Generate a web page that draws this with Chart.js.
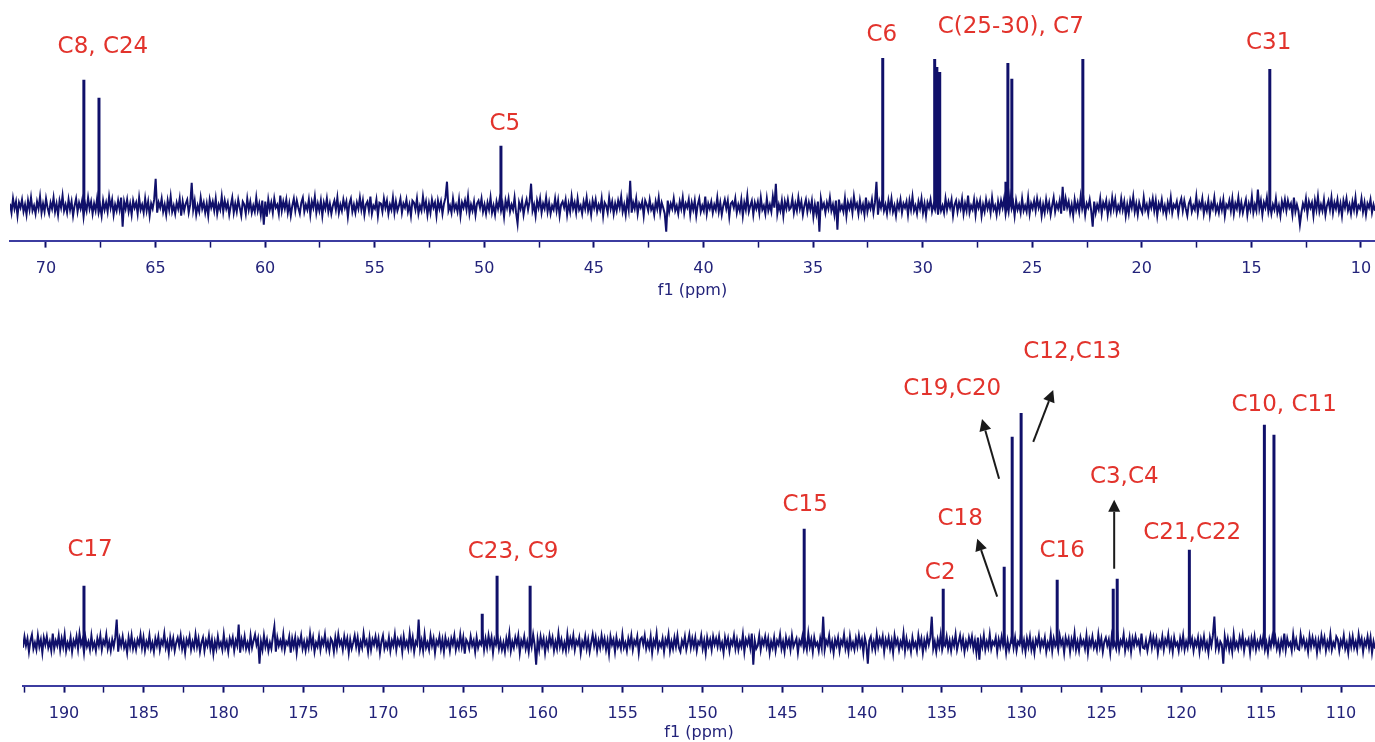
<!DOCTYPE html>
<html>
<head>
<meta charset="utf-8">
<script src="https://cdn.jsdelivr.net/npm/chart.js@4.4.1/dist/chart.umd.min.js"></script>
<style>
  body { margin: 0; background: #fff; }
  canvas { position: absolute; left: 0; }
  #topChart { top: 0; }
  #bottomChart { top: 300px; }
</style>
</head>
<body>
<canvas id="topChart" width="1375" height="300"></canvas>
<canvas id="bottomChart" width="1375" height="442"></canvas>
<script>
// ---- top spectrum (aliphatic region) ----
const topRange = [71.64, 9.36];           // ppm, left -> right
const topPeakPpm = [68.27, 67.58, 49.24, 31.82, 29.45, 29.35, 29.22, 26.2, 26.11, 25.93, 22.69, 14.16];
const topPeakHeight = [127, 109, 61, 149, 148, 140, 135, 25, 144, 128, 148, 138];
// baseline noise, left to right
const topNoise = [
  3,-6,8,-2,5,-9,4,-1,7,-5,2,-8,6, -3,9,-4,1,-7,5,-2,10,-6,3,-5,8,-1,
  -7,4,-2,9,-5,3,-8,6,-1,11,-4,2,-6, 7,-3,5,-9,1,8,-5,4,-2,6,-10,3,-4,
  9,-2,5,-7,3,-4,8,-6,1,-9,6,-3,4, -5,10,-1,7,-8,2,-4,6,-3,9,-20,5,-2,
  7,-5,3,-8,6,-1,4,-7,9,-3,2,-6,8, -4,5,-9,3,-2,7,28,-6,4,-1,8,-5,2,
  -8,6,-3,10,-5,1,-7,4,-2,8,-9,5,-4, 3,7,-6,2,24,-3,6,-8,1,-5,9,-2,4,
  -6,3,-9,7,-1,5,-4,8,-7,2,-3,10,-5, 6,-2,4,-8,1,9,-6,3,-5,7,-1,-9,5,
  2,-7,8,-3,5,-6,1,-5,9,-4,3,-8,6, -18,5,-10,7,-3,4,-6,8,-1,2,-7,11,-4,
  5,-2,7,-6,3,-9,1,8,-4,6,-1,-7,4, 9,-5,2,-3,7,-8,5,-1,10,-6,3,-4,6,
  -9,4,-2,8,-5,3,-7,1,6,-3,9,-6,2, -4,7,-1,5,-10,3,8,-5,2,-6,4,-2,9,
  -3,6,-8,2,5,-4,10,-7,1,-2,7,-9,4, 3,-5,8,-1,6,-7,2,-3,9,-6,5,-4,1,
  8,-6,3,-1,7,-5,2,-9,6,4,-3,8,-7, 1,-4,10,-2,5,-8,3,-6,7,-1,4,-9,6,
  -2,5,-7,3,9,25,-4,1,-6,8,-3,2,-5, 7,-9,4,-1,6,-3,10,-7,2,-4,5,-8,3,
  6,-1,8,-5,2,-7,4,-3,9,-6,1,-8,5, -2,7,-4,3,-10,6,-1,8,-5,2,-3,9,-6,
  -17,4,-2,6,-8,1,7,-3,5,23,-4,2,-9, 6,-1,8,-6,3,-2,9,-5,4,-7,1,-3,8,
  -4,6,-9,2,5,-1,7,-8,3,-5,10,-2,4, -6,8,-3,1,-7,5,-2,9,-4,3,-8,6,-1,
  7,-5,2,-3,8,-9,4,1,-6,9,-2,5,-7, 3,-4,6,-1,10,-5,2,-8,7,-3,26,-6,4,
  -2,8,-7,3,-1,5,-9,6,2,-4,7,-3,1, -8,5,-2,9,-6,4,-1,-7,-25,6,-5,3,-2,
  8,-4,1,-7,5,-2,9,-6,3,-1,7,-8,4, -3,6,-9,2,8,-5,1,-4,10,-7,3,-2,5,
  -6,2,-3,9,-5,4,-8,1,7,-2,6,-10,3, 5,-1,8,-6,2,-4,7,-9,4,-3,11,-5,1,
  6,-8,4,-2,5,-6,9,-3,1,-7,8,-4,2, -5,10,-1,23,-7,2,-4,6,-9,5,-2,7,-3,
  -1,8,-6,3,-4,9,-2,5,-8,1,7,-5,4, -3,6,-10,2,-7,5,-25,8,-1,3,-6,4,-2,
  9,-4,2,-8,6,-23,7,-3,1,-5,8,-9,4, -2,5,-6,10,-1,3,-7,6,-4,2,-8,9,-5,
  3,-2,7,-6,4,25,-8,5,-1,9,-4,2,-7, 6,-3,8,-5,1,-9,4,-2,7,-6,3,-1,5,
  -8,6,-3,10,-4,1,-7,5,-2,8,-6,3,-9, 4,-1,7,-5,2,-3,9,-8,6,-4,1,-6,8,
  -3,5,-1,7,-9,2,6,-5,4,-2,8,-7,3, -4,11,-6,1,-3,7,-8,5,-1,6,-9,2,-5,
  7,-2,4,-6,9,-3,1,-8,5,-4,6,-1,8, -7,3,-5,10,-2,4,-9,6,-3,2,-6,8,-4,
  1,-5,9,-7,3,-2,6,-4,8,-1,5,-9,2, -6,7,-3,4,-8,1,9,-5,3,-2,6,-7,20,
  -4,8,-1,5,-6,2,-9,7,-3,4,-5,10,-2, 6,-8,3,-1,7,-4,-20,5,-6,2,-3,8,-7,
  4,-1,6,-8,3,-5,9,-2,7,-6,1,-4,8, -3,5,-9,2,-7,6,-1,10,-5,3,-8,4,-2,
  -6,9,-3,2,-7,5,-1,8,-4,6,-9,3,-2, 7,-5,1,-8,4,-3,9,-6,2,-1,5,-7,3,
  8,-4,6,-2,-9,3,7,-5,1,-3,10,-6,4, -1,8,-7,2,-4,6,-8,3,-2,9,-5,1,-6,
  5,-3,7,-9,2,-1,6,-4,8,-7,3,-2,9, -5,4,-6,1,7,-8,3,-3,10,-6,2,-4,17,
  -2,6,-8,4,-1,9,-5,3,-7,2,-3,8,-6, 1,-9,5,-2,7,-4,6,-1,3,-8,9,-5,2,
  -4,-18,-6,3,-2,8,-7,5,-1,4,-9,6,-3, 10,-5,2,-4,7,-8,1,6,-3,9,-6,4,-2,
  7,-5,3,-9,6,-1,8,-4,2,-7,5,-3,9, -6,1,-2,8,-5,4,-8,3,-1,7,-6,2,-4
];
const topTicks = { step: 2.5, labelEvery: 5 };

// ---- bottom spectrum (aromatic / carbonyl region) ----
const bottomRange = [192.57, 107.87];
const bottomPeakPpm = [188.75, 163.8, 162.87, 160.8, 143.63, 134.92, 131.1, 130.6, 130.04, 127.78, 124.27, 124.02, 119.5, 114.8, 114.2];
const bottomPeakHeight = [58, 30, 68, 58, 115, 55, 77, 207, 231, 64, 55, 65, 94, 219, 209];
const bottomNoise = [
  -4,7,-2,5,-8,3,9,-5,1,-6,8,-3,4, -9,6,-1,7,-4,2,-7,10,-5,3,-2,8,-6,
  5,-3,9,-7,1,-4,6,-8,3,-2,7,-5,10, -1,4,-9,6,-3,2,-6,8,-4,1,-7,5,-2,
  8,-6,3,-1,9,-5,2,-7,4,-3,6,24,-8, 5,-2,7,-4,1,-9,6,-3,8,-5,2,-6,4,
  -1,9,-4,6,-7,2,-3,8,-5,1,-8,5,-2, 7,-6,3,-1,10,-4,2,-9,6,-3,5,-7,1,
  6,-2,8,-5,3,-9,4,-1,7,-6,2,-4,9, -3,5,-8,1,6,-7,3,-2,8,-5,4,-10,2,
  -5,7,-3,1,-6,9,-4,2,-8,5,-1,6,-7, 3,-2,19,-9,4,-3,7,-5,1,-6,8,-4,3,
  9,-1,5,-20,2,-6,8,-3,4,-7,1,-5,7, 17,-8,6,-2,3,-4,9,-6,2,-1,7,-9,5,
  -3,6,-9,4,-1,8,-5,2,-7,3,-4,10,-2, 6,-8,1,-3,7,-6,4,-1,9,-5,2,-7,5,
  2,-8,6,-4,9,-1,3,-6,7,-2,5,-9,4, -5,1,8,-3,6,-7,2,-4,10,-1,3,-8,6,
  -6,4,-1,7,-3,5,-9,2,8,-5,1,-4,6, -7,3,-2,9,-6,4,-1,5,-8,7,-3,2,-5,
  10,-3,6,-8,2,-1,24,-5,3,-7,9,-4,1, -6,8,-2,5,-9,3,-1,7,-5,4,-8,6,-2,
  3,-7,5,-1,8,-6,2,-4,9,-3,6,-10,4, 1,-5,7,-2,3,-8,6,-4,2,-1,9,-6,5,
  -4,8,-2,6,-9,4,-1,7,-5,3,-6,1,-8, 5,-3,10,-7,2,-4,6,-1,8,-9,3,-2,7,
  -5,2,-8,6,-3,9,-1,-21,4,-6,7,-2,5, -9,3,-4,8,-1,6,-7,2,-5,10,-3,4,-6,
  1,-7,9,-4,5,-2,8,-6,3,-1,6,-9,2, -3,7,-5,4,-8,1,9,-2,6,-7,3,-4,8,
  -2,5,-6,3,-10,7,-1,4,-8,6,-3,2,-5, 9,-4,1,-7,5,-2,8,-6,3,-1,7,-9,4,
  6,-1,8,-5,2,-4,7,-9,3,-2,10,-6,1, -3,5,-8,4,-1,9,-7,2,-5,6,-3,8,-4,
  -8,3,-2,7,-6,1,9,-4,5,-3,6,-7,2, -1,8,-5,3,-9,6,-2,4,-6,7,-1,5,-3,
  7,-4,1,-9,6,-2,5,-7,3,-1,8,-5,4, -6,2,-3,9,-8,4,-1,6,-4,10,-21,3,-5,
  -2,8,-6,4,-1,7,-3,5,-9,2,-4,6,-7, 3,-1,9,-5,2,-8,6,-2,4,-6,8,-3,1,
  5,-9,3,-1,7,-5,2,-6,10,-3,4,-8,6, -2,1,-7,5,-4,27,-6,3,-1,8,-5,2,-9,
  4,-2,6,-7,3,-1,9,-5,2,-8,7,-4,1, -6,5,-3,8,-2,4,-9,6,-1,-20,3,7,-5,
  2,-6,9,-3,5,-1,7,-8,4,-2,6,-5,3, -9,8,-1,4,-6,2,-3,10,-7,5,-4,1,-8,
  6,-3,1,-7,8,-2,5,-9,3,-4,7,-1,6, 27,-5,2,-8,4,-3,9,-6,1,-2,7,-5,3,
  -7,4,-2,9,-6,1,8,-3,5,-8,2,-4,6, -1,7,-5,3,-9,6,-16,4,-3,8,-6,2,-4,
  9,-5,2,-1,6,-8,4,-3,7,-2,5,-9,3, -6,1,8,-4,6,-7,2,-1,10,-5,3,-8,5,
  -3,7,-6,2,-9,4,-1,8,-5,3,-2,6,-8, 1,-4,9,-7,5,-2,3,-6,8,-1,4,-9,6,
  -1,5,-8,4,-3,10,-6,2,-7,6,-1,3,-5, 8,-9,4,-2,7,-4,1,-6,9,-3,5,-8,2,
  6,-2,4,-9,7,-3,1,-5,8,-6,3,-1,9, -7,2,-4,6,-8,5,-2,7,-1,3,-6,10,-4,
  -5,3,-7,1,8,-4,6,-2,5,-9,2,-3,7, -6,4,-1,9,-5,3,-8,6,-2,1,-7,5,-3,
  8,-6,2,-4,9,-1,5,-7,3,-2,6,-8,4, -3,7,-5,1,-9,6,-2,8,27,-4,3,-6,2,
  -1,-20,7,-3,5,-6,2,-8,9,-4,1,-5,6, -2,8,-7,3,-1,4,-9,5,-3,7,-6,2,-4,
  5,-2,8,-6,1,-9,4,-3,7,-1,6,-5,2, -8,3,-4,10,-6,5,-2,1,-7,9,-3,4,-5,
  -6,9,-1,5,-4,2,-8,7,-3,6,-2,4,-9, 3,-5,8,-1,6,-7,2,-4,9,-6,1,-3,7,
  4,-7,3,-2,8,-5,1,-9,6,-3,7,-4,2, -6,9,-1,5,-8,3,-2,7,-4,6,-9,2,-5
];

// peak labels: text, anchor ppm, anchor intensity
const topLabels = [
  ['C8, C24', 67.4, 160], ['C5', 49.06, 83], ['C6', 31.86, 172],
  ['C(25-30), C7', 25.98, 180], ['C31', 14.21, 164]
];
const bottomLabels = [
  ['C17', 188.37, 94], ['C23, C9', 161.87, 92], ['C15', 143.57, 139],
  ['C2', 135.11, 71], ['C18', 133.86, 125], ['C19,C20', 134.36, 255],
  ['C12,C13', 126.84, 292], ['C16', 127.47, 93], ['C3,C4', 123.58, 167],
  ['C21,C22', 119.32, 111], ['C10, C11', 113.56, 239]
];
// arrows: tail ppm, tail intensity, head ppm, head intensity
const bottomArrows = [
  [131.42, 165, 132.49, 225],
  [129.28, 202, 128.03, 254],
  [131.54, 47, 132.79, 105],
  [124.21, 75, 124.21, 144]
];

const navy = '#10106a';
const axisBlue = '#3c3ca0';
const labelRed = '#e2332c';
const fontFamily = "'DejaVu Sans', Verdana, sans-serif";

function noisePoints(range, noise) {
  var step = (range[0] - range[1]) / (noise.length - 1);
  return noise.map(function (v, i) { return { x: range[0] - i * step, y: v }; });
}

function peakPoints(ppm, heights) {
  var pts = [];
  ppm.forEach(function (p, i) {
    pts.push({ x: p, y: 0 }, { x: p, y: heights[i] }, { x: p, y: null });
  });
  return pts;
}

// draws the red labels and black arrows in data coordinates
const peakLabelPlugin = {
  id: 'peakLabels',
  afterDatasetsDraw: function (chart, args, opts) {
    var ctx = chart.ctx, xs = chart.scales.x, ys = chart.scales.y;
    ctx.save();
    ctx.font = '23px ' + fontFamily;
    ctx.fillStyle = labelRed;
    ctx.textAlign = 'center';
    ctx.textBaseline = 'middle';
    (opts.labels || []).forEach(function (l) {
      ctx.fillText(l[0], xs.getPixelForValue(l[1]), ys.getPixelForValue(l[2]));
    });
    ctx.strokeStyle = '#1a1a1a';
    ctx.fillStyle = '#1a1a1a';
    ctx.lineWidth = 2;
    (opts.arrows || []).forEach(function (a) {
      var x1 = xs.getPixelForValue(a[0]), y1 = ys.getPixelForValue(a[1]);
      var x2 = xs.getPixelForValue(a[2]), y2 = ys.getPixelForValue(a[3]);
      var ang = Math.atan2(y2 - y1, x2 - x1);
      var hl = 12, hw = 6;
      var bx = x2 - hl * Math.cos(ang), by = y2 - hl * Math.sin(ang);
      ctx.beginPath();
      ctx.moveTo(x1, y1);
      ctx.lineTo(bx, by);
      ctx.stroke();
      ctx.beginPath();
      ctx.moveTo(x2, y2);
      ctx.lineTo(bx + hw * Math.sin(ang), by - hw * Math.cos(ang));
      ctx.lineTo(bx - hw * Math.sin(ang), by + hw * Math.cos(ang));
      ctx.closePath();
      ctx.fill();
    });
    ctx.restore();
  }
};

function makeSpectrum(canvasId, range, noise, peakPpm, peakHeight, yMin, yMax, padLeft, titlePadTop, labels, arrows) {
  var ctx = document.getElementById(canvasId).getContext('2d');
  return new Chart(ctx, {
    type: 'line',
    data: {
      datasets: [
        {
          data: noisePoints(range, noise),
          borderColor: navy,
          borderWidth: 2,
          pointRadius: 0,
          tension: 0
        },
        {
          data: peakPoints(peakPpm, peakHeight),
          borderColor: navy,
          borderWidth: 3,
          pointRadius: 0,
          spanGaps: false
        }
      ]
    },
    options: {
      responsive: false,
      animation: false,
      devicePixelRatio: 1,
      layout: { padding: { left: padLeft, right: 0, top: 0, bottom: 0 } },
      plugins: {
        legend: { display: false },
        tooltip: { enabled: false },
        peakLabels: { labels: labels, arrows: arrows }
      },
      scales: {
        x: {
          type: 'linear',
          reverse: true,
          min: range[1],
          max: range[0],
          offset: false,
          afterFit: function (scale) { scale.paddingLeft = 0; scale.paddingRight = 0; },
          border: { display: true, color: axisBlue, width: 2 },
          grid: {
            drawOnChartArea: false,
            drawTicks: true,
            tickLength: 7,
            tickColor: navy,
            tickWidth: function (c) { return c.tick && c.tick.value % topTicks.labelEvery === 0 ? 2 : 1.5; }
          },
          ticks: {
            stepSize: topTicks.step,
            includeBounds: false,
            autoSkip: false,
            maxRotation: 0,
            padding: 12,
            color: '#23237a',
            font: { family: fontFamily, size: 16 },
            callback: function (v) { return v % topTicks.labelEvery === 0 ? String(v) : ''; }
          },
          title: {
            display: true,
            text: 'f1 (ppm)',
            color: '#23237a',
            font: { family: fontFamily, size: 16 },
            padding: { top: titlePadTop, bottom: 0 }
          }
        },
        y: { display: false, min: yMin, max: yMax }
      }
    },
    plugins: [peakLabelPlugin]
  });
}

makeSpectrum('topChart', topRange, topNoise, topPeakPpm, topPeakHeight, -34, 207, 10, -10, topLabels, []);
makeSpectrum('bottomChart', bottomRange, bottomNoise, bottomPeakPpm, bottomPeakHeight, -42, 344, 23, -13, bottomLabels, bottomArrows);
</script>
</body>
</html>
